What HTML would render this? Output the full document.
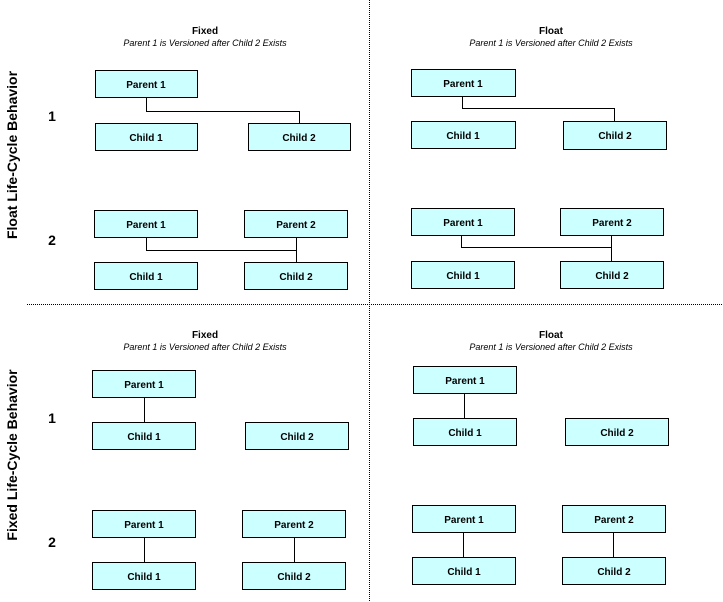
<!DOCTYPE html>
<html><head><style>body{margin:0;background:#fff}svg{display:block}</style></head><body>
<svg width="723" height="602" xmlns="http://www.w3.org/2000/svg" font-family="Liberation Sans, Arial, sans-serif">
<g stroke="#000" stroke-width="1" stroke-dasharray="1,1">
<line x1="369.5" y1="0" x2="369.5" y2="602"/>
<line x1="27" y1="304.5" x2="723" y2="304.5"/>
</g>
<g font-weight="bold" font-size="14" text-anchor="middle">
<text transform="translate(17,155) rotate(-90)">Float Life-Cycle Behavior</text>
<text transform="translate(17,455) rotate(-90)">Fixed Life-Cycle Behavior</text>
<text x="52" y="121">1</text><text x="52" y="245">2</text>
<text x="52" y="423">1</text><text x="52" y="547">2</text>
</g>
<g text-anchor="middle">
<text x="205" y="34" font-size="10" font-weight="bold">Fixed</text>
<text x="205" y="46" font-size="9" font-style="italic">Parent 1 is Versioned after Child 2 Exists</text>
<text x="551" y="34" font-size="10" font-weight="bold">Float</text>
<text x="551" y="46" font-size="9" font-style="italic">Parent 1 is Versioned after Child 2 Exists</text>
<text x="205" y="338" font-size="10" font-weight="bold">Fixed</text>
<text x="205" y="350" font-size="9" font-style="italic">Parent 1 is Versioned after Child 2 Exists</text>
<text x="551" y="338" font-size="10" font-weight="bold">Float</text>
<text x="551" y="350" font-size="9" font-style="italic">Parent 1 is Versioned after Child 2 Exists</text>
</g>
<g fill="none" stroke="#000">
<polyline points="146.5,97 146.5,111.5 299.5,111.5 299.5,123"/>
<polyline points="146.5,237 146.5,250.5 296.5,250.5"/>
<line x1="296.5" y1="237" x2="296.5" y2="262"/>
<polyline points="462.5,96 462.5,108.5 614.5,108.5 614.5,121"/>
<polyline points="461.5,235 461.5,247.5 611.5,247.5"/>
<line x1="611.5" y1="235" x2="611.5" y2="261"/>
<line x1="144.5" y1="397" x2="144.5" y2="422"/>
<line x1="144.5" y1="537" x2="144.5" y2="562"/>
<line x1="294.5" y1="537" x2="294.5" y2="562"/>
<line x1="464.5" y1="393" x2="464.5" y2="418"/>
<line x1="463.5" y1="532" x2="463.5" y2="557"/>
<line x1="613.5" y1="532" x2="613.5" y2="557"/>
</g>
<g fill="#ccffff" stroke="#000">
<rect x="95.5" y="70.5" width="102" height="27"/>
<rect x="95.5" y="123.5" width="102" height="27"/>
<rect x="248.5" y="123.5" width="102" height="27"/>
<rect x="94.5" y="210.5" width="103" height="27"/>
<rect x="244.5" y="210.5" width="103" height="27"/>
<rect x="94.5" y="262.5" width="103" height="27"/>
<rect x="244.5" y="262.5" width="103" height="27"/>
<rect x="411.5" y="69.5" width="104" height="27"/>
<rect x="411.5" y="121.5" width="104" height="27"/>
<rect x="563.5" y="121.5" width="103" height="28"/>
<rect x="411.5" y="208.5" width="103" height="27"/>
<rect x="560.5" y="208.5" width="103" height="27"/>
<rect x="411.5" y="261.5" width="103" height="27"/>
<rect x="560.5" y="261.5" width="103" height="27"/>
<rect x="92.5" y="370.5" width="103" height="27"/>
<rect x="92.5" y="422.5" width="103" height="27"/>
<rect x="245.5" y="422.5" width="103" height="27"/>
<rect x="92.5" y="510.5" width="103" height="27"/>
<rect x="242.5" y="510.5" width="103" height="27"/>
<rect x="92.5" y="562.5" width="103" height="27"/>
<rect x="242.5" y="562.5" width="103" height="27"/>
<rect x="413.5" y="366.5" width="103" height="27"/>
<rect x="413.5" y="418.5" width="103" height="27"/>
<rect x="565.5" y="418.5" width="103" height="27"/>
<rect x="412.5" y="505.5" width="103" height="27"/>
<rect x="562.5" y="505.5" width="103" height="27"/>
<rect x="412.5" y="557.5" width="103" height="27"/>
<rect x="562.5" y="557.5" width="103" height="27"/>
</g>
<g font-size="10" font-weight="bold" text-anchor="middle">
<text x="146" y="88">Parent 1</text>
<text x="146" y="141">Child 1</text>
<text x="299" y="141">Child 2</text>
<text x="146" y="228">Parent 1</text>
<text x="296" y="228">Parent 2</text>
<text x="146" y="280">Child 1</text>
<text x="296" y="280">Child 2</text>
<text x="463" y="87">Parent 1</text>
<text x="463" y="139">Child 1</text>
<text x="615" y="139">Child 2</text>
<text x="463" y="226">Parent 1</text>
<text x="612" y="226">Parent 2</text>
<text x="463" y="279">Child 1</text>
<text x="612" y="279">Child 2</text>
<text x="144" y="388">Parent 1</text>
<text x="144" y="440">Child 1</text>
<text x="297" y="440">Child 2</text>
<text x="144" y="528">Parent 1</text>
<text x="294" y="528">Parent 2</text>
<text x="144" y="580">Child 1</text>
<text x="294" y="580">Child 2</text>
<text x="465" y="384">Parent 1</text>
<text x="465" y="436">Child 1</text>
<text x="617" y="436">Child 2</text>
<text x="464" y="523">Parent 1</text>
<text x="614" y="523">Parent 2</text>
<text x="464" y="575">Child 1</text>
<text x="614" y="575">Child 2</text>
</g>
</svg>
</body></html>
